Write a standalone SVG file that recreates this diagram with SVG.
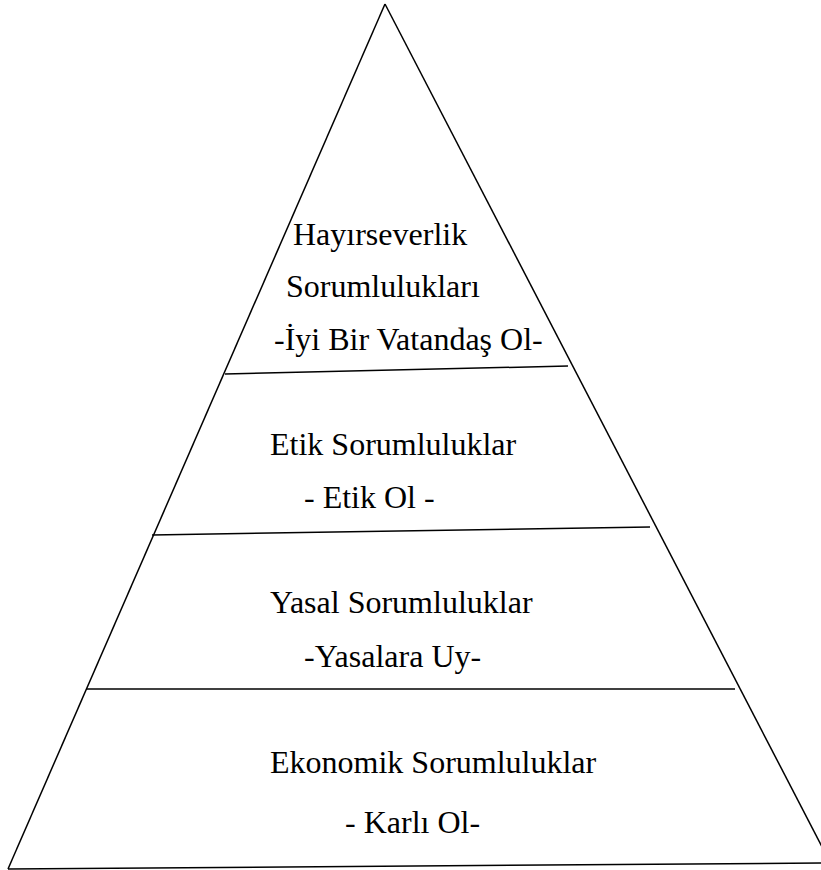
<svg xmlns="http://www.w3.org/2000/svg" width="821" height="870" viewBox="0 0 821 870">
<style>
.ln{stroke:#000;stroke-width:1.5;fill:none}
.t{font-family:"Liberation Serif","Times New Roman",serif;font-size:32px;fill:#000}
</style>
<rect width="821" height="870" fill="#fff"/>
<g id="connectors">
<line class="ln" x1="385" y1="4" x2="8" y2="869"/>
<line class="ln" x1="385" y1="4" x2="832" y2="866"/>
<line class="ln" x1="8" y1="869" x2="821" y2="863" stroke-width="2"/>
<line class="ln" x1="225" y1="374" x2="568" y2="366"/>
<line class="ln" x1="152" y1="535" x2="650" y2="527"/>
<line class="ln" x1="86" y1="689" x2="735" y2="689"/>
</g>
<g id="hayirseverlik">
<text class="t" x="293" y="245">Hayırseverlik</text>
<text class="t" x="286" y="297">Sorumlulukları</text>
<text class="t" x="274" y="350">-İyi Bir Vatandaş Ol-</text>
</g>
<g id="etik">
<text class="t" x="270" y="455">Etik Sorumluluklar</text>
<text class="t" x="304" y="508">- Etik Ol -</text>
</g>
<g id="yasal">
<text class="t" x="270" y="613">Yasal Sorumluluklar</text>
<text class="t" x="304" y="667">-Yasalara Uy-</text>
</g>
<g id="ekonomik">
<text class="t" x="270" y="773">Ekonomik Sorumluluklar</text>
<text class="t" x="345" y="833">- Karlı Ol-</text>
</g>
</svg>
